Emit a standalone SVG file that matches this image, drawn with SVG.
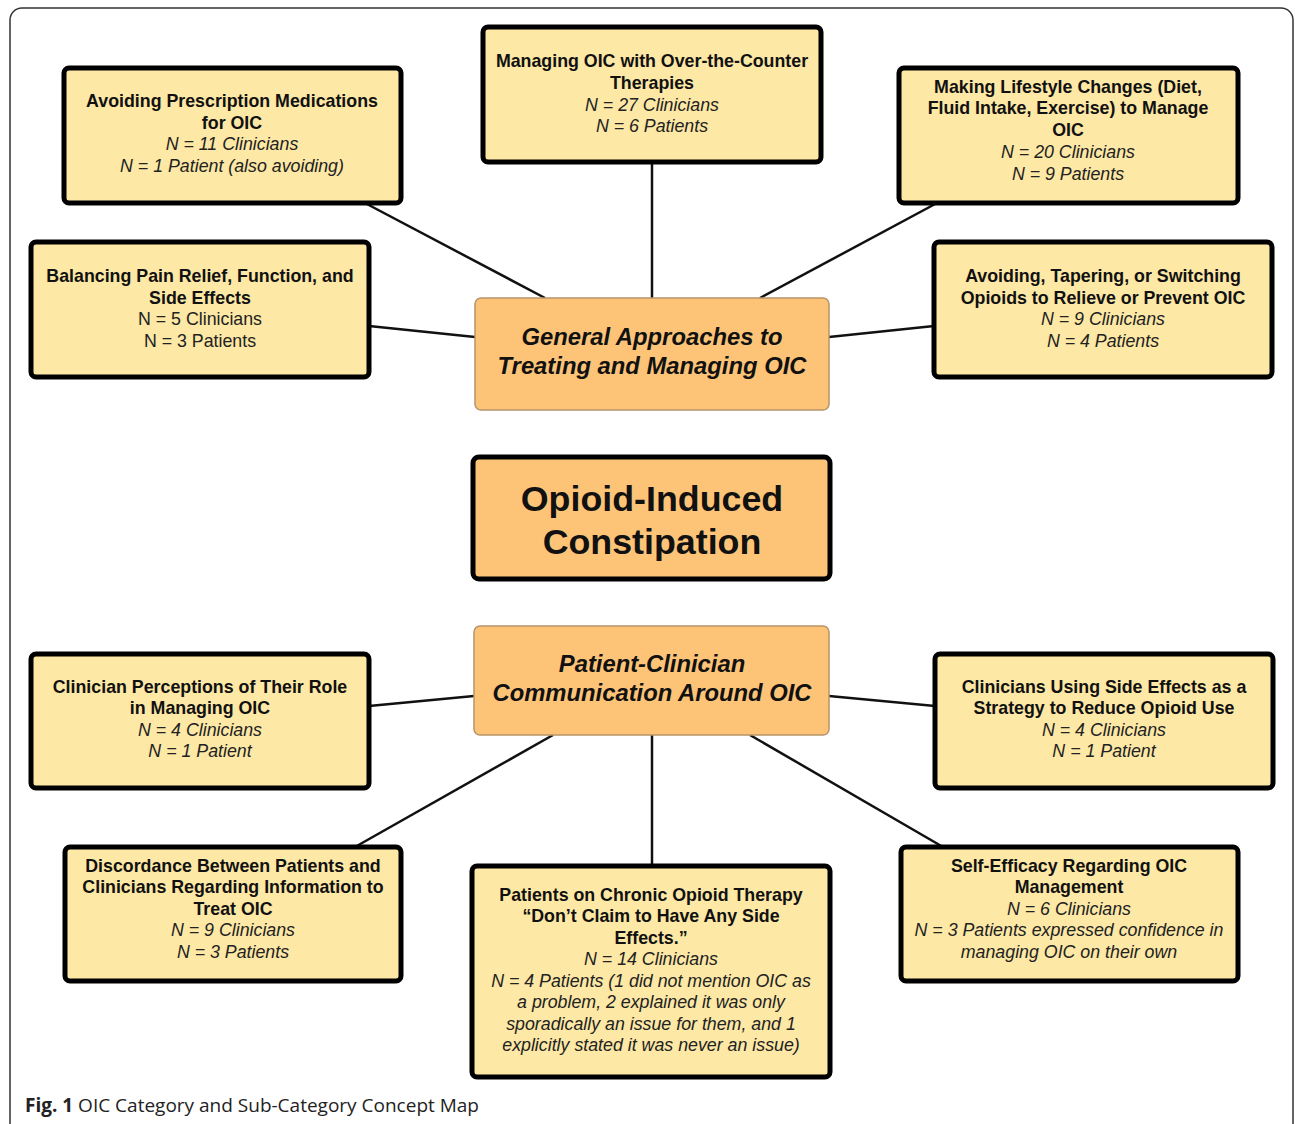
<svg xmlns="http://www.w3.org/2000/svg" width="1295" height="1124" viewBox="0 0 1295 1124">
<style>
.sub{fill:#fde8a5;stroke:#000;stroke-width:5}
.cat{fill:#fdc478;stroke:#b8946a;stroke-width:1.5}
.main{fill:#fdc478;stroke:#000;stroke-width:5}
text{font-family:"Liberation Sans",Arial,sans-serif;fill:#111;text-anchor:middle}
.t{font-size:17.8px;font-weight:bold}
.n{font-size:17.8px;font-style:italic;fill:#222}
.r{font-size:17.8px;fill:#222}
.c{font-size:23.8px;font-weight:bold;font-style:italic}
.m{font-size:35.8px;font-weight:bold}
.conn line{stroke:#111;stroke-width:2.5}
</style>
<rect x="10" y="8" width="1283" height="1140" rx="12" fill="#fff" stroke="#333" stroke-width="1.5"/>
<g class="conn">
<line x1="365" y1="203" x2="545" y2="298"/>
<line x1="652" y1="162" x2="652" y2="298"/>
<line x1="937" y1="203" x2="760" y2="298"/>
<line x1="369" y1="326" x2="475" y2="337"/>
<line x1="934" y1="326" x2="829" y2="337"/>
<line x1="369" y1="706" x2="474" y2="696"/>
<line x1="935" y1="706" x2="829" y2="696"/>
<line x1="355" y1="847" x2="553" y2="735"/>
<line x1="652" y1="866" x2="652" y2="735"/>
<line x1="943" y1="847" x2="750" y2="735"/>
</g>
<g id="n-avoid-rx">
<rect class="sub" x="64" y="68" width="337" height="135" rx="5"/>
<text class="t" x="232" y="107">Avoiding Prescription Medications</text>
<text class="t" x="232" y="129">for OIC</text>
<text class="n" x="232" y="150">N = 11 Clinicians</text>
<text class="n" x="232" y="172">N = 1 Patient (also avoiding)</text>
</g>
<g id="n-otc">
<rect class="sub" x="483" y="27" width="338" height="135" rx="5"/>
<text class="t" x="652" y="67">Managing OIC with Over-the-Counter</text>
<text class="t" x="652" y="89">Therapies</text>
<text class="n" x="652" y="111">N = 27 Clinicians</text>
<text class="n" x="652" y="132">N = 6 Patients</text>
</g>
<g id="n-lifestyle">
<rect class="sub" x="899" y="68" width="339" height="135" rx="5"/>
<text class="t" x="1068" y="93">Making Lifestyle Changes (Diet,</text>
<text class="t" x="1068" y="114">Fluid Intake, Exercise) to Manage</text>
<text class="t" x="1068" y="136">OIC</text>
<text class="n" x="1068" y="158">N = 20 Clinicians</text>
<text class="n" x="1068" y="180">N = 9 Patients</text>
</g>
<g id="n-balancing">
<rect class="sub" x="31" y="242" width="338" height="135" rx="5"/>
<text class="t" x="200" y="282">Balancing Pain Relief, Function, and</text>
<text class="t" x="200" y="304">Side Effects</text>
<text class="r" x="200" y="325">N = 5 Clinicians</text>
<text class="r" x="200" y="347">N = 3 Patients</text>
</g>
<g id="n-tapering">
<rect class="sub" x="934" y="242" width="338" height="135" rx="5"/>
<text class="t" x="1103" y="282">Avoiding, Tapering, or Switching</text>
<text class="t" x="1103" y="304">Opioids to Relieve or Prevent OIC</text>
<text class="n" x="1103" y="325">N = 9 Clinicians</text>
<text class="n" x="1103" y="347">N = 4 Patients</text>
</g>
<g id="n-general">
<rect class="cat" x="475" y="298" width="354" height="112" rx="6"/>
<text class="c" x="652" y="345">General Approaches to</text>
<text class="c" x="652" y="374">Treating and Managing OIC</text>
</g>
<g id="n-main">
<rect class="main" x="473" y="457" width="357" height="122" rx="6"/>
<text class="m" x="652" y="511">Opioid-Induced</text>
<text class="m" x="652" y="554">Constipation</text>
</g>
<g id="n-communication">
<rect class="cat" x="474" y="626" width="355" height="109" rx="6"/>
<text class="c" x="652" y="672">Patient-Clinician</text>
<text class="c" x="652" y="701">Communication Around OIC</text>
</g>
<g id="n-perceptions">
<rect class="sub" x="31" y="654" width="338" height="134" rx="5"/>
<text class="t" x="200" y="693">Clinician Perceptions of Their Role</text>
<text class="t" x="200" y="714">in Managing OIC</text>
<text class="n" x="200" y="736">N = 4 Clinicians</text>
<text class="n" x="200" y="757">N = 1 Patient</text>
</g>
<g id="n-strategy">
<rect class="sub" x="935" y="654" width="338" height="134" rx="5"/>
<text class="t" x="1104" y="693">Clinicians Using Side Effects as a</text>
<text class="t" x="1104" y="714">Strategy to Reduce Opioid Use</text>
<text class="n" x="1104" y="736">N = 4 Clinicians</text>
<text class="n" x="1104" y="757">N = 1 Patient</text>
</g>
<g id="n-discordance">
<rect class="sub" x="65" y="847" width="336" height="134" rx="5"/>
<text class="t" x="233" y="872">Discordance Between Patients and</text>
<text class="t" x="233" y="893">Clinicians Regarding Information to</text>
<text class="t" x="233" y="915">Treat OIC</text>
<text class="n" x="233" y="936">N = 9 Clinicians</text>
<text class="n" x="233" y="958">N = 3 Patients</text>
</g>
<g id="n-chronic">
<rect class="sub" x="472" y="866" width="358" height="211" rx="5"/>
<text class="t" x="651" y="901">Patients on Chronic Opioid Therapy</text>
<text class="t" x="651" y="922">“Don’t Claim to Have Any Side</text>
<text class="t" x="651" y="944">Effects.”</text>
<text class="n" x="651" y="965">N = 14 Clinicians</text>
<text class="n" x="651" y="987">N = 4 Patients (1 did not mention OIC as</text>
<text class="n" x="651" y="1008">a problem, 2 explained it was only</text>
<text class="n" x="651" y="1030">sporadically an issue for them, and 1</text>
<text class="n" x="651" y="1051">explicitly stated it was never an issue)</text>
</g>
<g id="n-selfefficacy">
<rect class="sub" x="901" y="847" width="337" height="134" rx="5"/>
<text class="t" x="1069" y="872">Self-Efficacy Regarding OIC</text>
<text class="t" x="1069" y="893">Management</text>
<text class="n" x="1069" y="915">N = 6 Clinicians</text>
<text class="n" x="1069" y="936">N = 3 Patients expressed confidence in</text>
<text class="n" x="1069" y="958">managing OIC on their own</text>
</g>
<text x="25" y="1112" style="font-family:'Open Sans','Liberation Sans',sans-serif;font-size:19px;text-anchor:start;fill:#222"><tspan font-weight="bold">Fig. 1</tspan> OIC Category and Sub-Category Concept Map</text>
</svg>
